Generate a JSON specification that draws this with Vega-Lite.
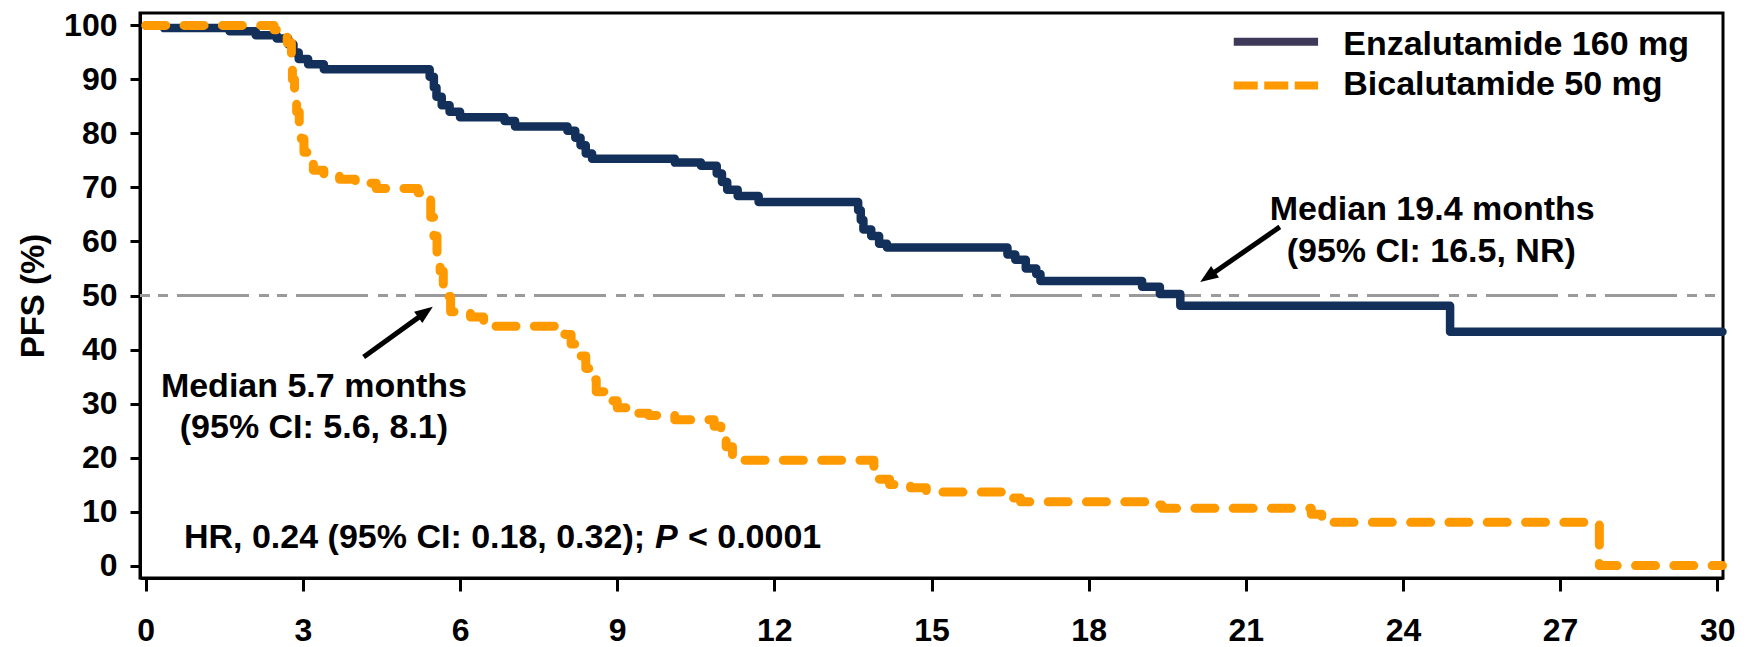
{
  "$schema": "https://vega.github.io/schema/vega-lite/v6.json",
  "width": 1583,
  "height": 565,
  "autosize": "none",
  "padding": {"left": 140, "top": 13, "right": 27, "bottom": 69},
  "background": "white",
  "config": {
    "view": {"stroke": "black", "strokeWidth": 3},
    "font": "Liberation Sans",
    "axis": {
      "grid": false,
      "domainColor": "black",
      "domainWidth": 3,
      "tickColor": "black",
      "tickWidth": 3,
      "labelFont": "Liberation Sans",
      "labelFontWeight": "bold",
      "labelFontSize": 32,
      "labelColor": "black",
      "titleFont": "Liberation Sans",
      "titleFontWeight": "bold",
      "titleFontSize": 33,
      "titleColor": "black"
    }
  },
  "datasets": {
    "km": [
      {"series": "Enzalutamide 160 mg", "t": 0, "v": 100},
      {"series": "Enzalutamide 160 mg", "t": 0.35, "v": 99.5},
      {"series": "Enzalutamide 160 mg", "t": 1.6, "v": 98.9},
      {"series": "Enzalutamide 160 mg", "t": 2.1, "v": 98.2},
      {"series": "Enzalutamide 160 mg", "t": 2.5, "v": 97.6},
      {"series": "Enzalutamide 160 mg", "t": 2.72, "v": 96.5},
      {"series": "Enzalutamide 160 mg", "t": 2.82, "v": 95},
      {"series": "Enzalutamide 160 mg", "t": 2.92, "v": 93.8},
      {"series": "Enzalutamide 160 mg", "t": 3.1, "v": 92.8},
      {"series": "Enzalutamide 160 mg", "t": 3.4, "v": 91.9},
      {"series": "Enzalutamide 160 mg", "t": 5.42, "v": 90.5},
      {"series": "Enzalutamide 160 mg", "t": 5.5, "v": 88.5},
      {"series": "Enzalutamide 160 mg", "t": 5.55, "v": 86.8},
      {"series": "Enzalutamide 160 mg", "t": 5.65, "v": 85.2},
      {"series": "Enzalutamide 160 mg", "t": 5.8, "v": 84},
      {"series": "Enzalutamide 160 mg", "t": 6.0, "v": 83.0},
      {"series": "Enzalutamide 160 mg", "t": 6.85, "v": 82.3},
      {"series": "Enzalutamide 160 mg", "t": 7.05, "v": 81.3},
      {"series": "Enzalutamide 160 mg", "t": 8.05, "v": 80.5},
      {"series": "Enzalutamide 160 mg", "t": 8.2, "v": 79.2},
      {"series": "Enzalutamide 160 mg", "t": 8.3, "v": 77.8},
      {"series": "Enzalutamide 160 mg", "t": 8.4, "v": 76.3},
      {"series": "Enzalutamide 160 mg", "t": 8.52, "v": 75.3},
      {"series": "Enzalutamide 160 mg", "t": 10.1, "v": 74.6},
      {"series": "Enzalutamide 160 mg", "t": 10.6, "v": 74.0},
      {"series": "Enzalutamide 160 mg", "t": 10.9, "v": 72.6},
      {"series": "Enzalutamide 160 mg", "t": 11.0, "v": 71},
      {"series": "Enzalutamide 160 mg", "t": 11.1, "v": 69.6},
      {"series": "Enzalutamide 160 mg", "t": 11.3, "v": 68.4},
      {"series": "Enzalutamide 160 mg", "t": 11.7, "v": 67.3},
      {"series": "Enzalutamide 160 mg", "t": 13.6, "v": 65.8},
      {"series": "Enzalutamide 160 mg", "t": 13.65, "v": 64},
      {"series": "Enzalutamide 160 mg", "t": 13.7, "v": 62.2},
      {"series": "Enzalutamide 160 mg", "t": 13.85, "v": 61},
      {"series": "Enzalutamide 160 mg", "t": 14.0, "v": 59.6},
      {"series": "Enzalutamide 160 mg", "t": 14.15, "v": 58.9},
      {"series": "Enzalutamide 160 mg", "t": 16.45, "v": 57.6},
      {"series": "Enzalutamide 160 mg", "t": 16.6, "v": 56.6},
      {"series": "Enzalutamide 160 mg", "t": 16.8, "v": 55},
      {"series": "Enzalutamide 160 mg", "t": 17.0, "v": 54},
      {"series": "Enzalutamide 160 mg", "t": 17.08, "v": 52.7},
      {"series": "Enzalutamide 160 mg", "t": 19.02, "v": 51.6},
      {"series": "Enzalutamide 160 mg", "t": 19.36, "v": 50.3},
      {"series": "Enzalutamide 160 mg", "t": 19.75, "v": 48.1},
      {"series": "Enzalutamide 160 mg", "t": 24.9, "v": 43.3},
      {"series": "Enzalutamide 160 mg", "t": 30.1, "v": 43.3},
      {"series": "Bicalutamide 50 mg", "t": 0, "v": 100},
      {"series": "Bicalutamide 50 mg", "t": 2.45, "v": 99.2},
      {"series": "Bicalutamide 50 mg", "t": 2.6, "v": 98},
      {"series": "Bicalutamide 50 mg", "t": 2.7, "v": 96.8},
      {"series": "Bicalutamide 50 mg", "t": 2.78, "v": 93},
      {"series": "Bicalutamide 50 mg", "t": 2.8, "v": 90},
      {"series": "Bicalutamide 50 mg", "t": 2.84, "v": 87},
      {"series": "Bicalutamide 50 mg", "t": 2.88, "v": 84},
      {"series": "Bicalutamide 50 mg", "t": 2.93, "v": 81},
      {"series": "Bicalutamide 50 mg", "t": 2.97, "v": 79},
      {"series": "Bicalutamide 50 mg", "t": 3.02, "v": 76.5},
      {"series": "Bicalutamide 50 mg", "t": 3.08, "v": 74.5},
      {"series": "Bicalutamide 50 mg", "t": 3.2, "v": 73.2},
      {"series": "Bicalutamide 50 mg", "t": 3.4, "v": 72.3},
      {"series": "Bicalutamide 50 mg", "t": 3.7, "v": 71.5},
      {"series": "Bicalutamide 50 mg", "t": 4.0, "v": 70.8},
      {"series": "Bicalutamide 50 mg", "t": 4.4, "v": 69.8},
      {"series": "Bicalutamide 50 mg", "t": 5.2, "v": 69},
      {"series": "Bicalutamide 50 mg", "t": 5.36, "v": 67.8},
      {"series": "Bicalutamide 50 mg", "t": 5.44, "v": 64.5},
      {"series": "Bicalutamide 50 mg", "t": 5.5, "v": 61},
      {"series": "Bicalutamide 50 mg", "t": 5.56, "v": 57.5},
      {"series": "Bicalutamide 50 mg", "t": 5.62, "v": 54.5},
      {"series": "Bicalutamide 50 mg", "t": 5.68, "v": 52},
      {"series": "Bicalutamide 50 mg", "t": 5.74, "v": 49.8},
      {"series": "Bicalutamide 50 mg", "t": 5.82, "v": 47},
      {"series": "Bicalutamide 50 mg", "t": 6.2, "v": 46},
      {"series": "Bicalutamide 50 mg", "t": 6.45, "v": 45},
      {"series": "Bicalutamide 50 mg", "t": 6.65, "v": 44.3},
      {"series": "Bicalutamide 50 mg", "t": 8.0, "v": 42.8},
      {"series": "Bicalutamide 50 mg", "t": 8.12, "v": 41},
      {"series": "Bicalutamide 50 mg", "t": 8.25, "v": 38.8},
      {"series": "Bicalutamide 50 mg", "t": 8.4, "v": 36.5},
      {"series": "Bicalutamide 50 mg", "t": 8.5, "v": 34.4},
      {"series": "Bicalutamide 50 mg", "t": 8.6, "v": 32.2},
      {"series": "Bicalutamide 50 mg", "t": 8.8, "v": 30.5},
      {"series": "Bicalutamide 50 mg", "t": 9.0, "v": 29.2},
      {"series": "Bicalutamide 50 mg", "t": 9.2, "v": 28.2},
      {"series": "Bicalutamide 50 mg", "t": 9.6, "v": 27.8},
      {"series": "Bicalutamide 50 mg", "t": 10.1, "v": 27},
      {"series": "Bicalutamide 50 mg", "t": 10.85, "v": 25.8},
      {"series": "Bicalutamide 50 mg", "t": 10.98, "v": 24},
      {"series": "Bicalutamide 50 mg", "t": 11.08, "v": 22},
      {"series": "Bicalutamide 50 mg", "t": 11.2, "v": 20.3},
      {"series": "Bicalutamide 50 mg", "t": 11.35, "v": 19.5},
      {"series": "Bicalutamide 50 mg", "t": 13.9, "v": 17.5},
      {"series": "Bicalutamide 50 mg", "t": 13.97, "v": 16},
      {"series": "Bicalutamide 50 mg", "t": 14.2, "v": 15},
      {"series": "Bicalutamide 50 mg", "t": 14.6, "v": 14.4},
      {"series": "Bicalutamide 50 mg", "t": 14.9, "v": 13.6},
      {"series": "Bicalutamide 50 mg", "t": 16.5, "v": 12.5},
      {"series": "Bicalutamide 50 mg", "t": 16.7, "v": 11.8},
      {"series": "Bicalutamide 50 mg", "t": 19.15, "v": 11.2},
      {"series": "Bicalutamide 50 mg", "t": 19.4, "v": 10.6},
      {"series": "Bicalutamide 50 mg", "t": 22.25, "v": 9.5},
      {"series": "Bicalutamide 50 mg", "t": 22.45, "v": 8},
      {"series": "Bicalutamide 50 mg", "t": 27.75, "v": 0},
      {"series": "Bicalutamide 50 mg", "t": 30.1, "v": 0}
    ]
  },
  "encoding": {
    "x": {
      "field": "t",
      "type": "quantitative",
      "scale": {"domain": [-0.11, 30.11], "nice": false, "zero": false},
      "axis": {
        "title": null,
        "values": [0, 3, 6, 9, 12, 15, 18, 21, 24, 27, 30],
        "format": "d",
        "tickSize": 13,
        "labelPadding": 24,
        "labelFlush": false,
        "labelDx": 5
      }
    },
    "y": {
      "field": "v",
      "type": "quantitative",
      "scale": {"domain": [-2.3, 102.3], "nice": false, "zero": false},
      "axis": {
        "title": "PFS (%)",
        "values": [0, 10, 20, 30, 40, 50, 60, 70, 80, 90, 100],
        "tickSize": 10,
        "labelPadding": 13,
        "titlePadding": 13
      }
    }
  },
  "layer": [
    {
      "data": {"values": [{"t": -0.11, "t2": 30.11, "v": 50}]},
      "mark": {"type": "rule", "stroke": "#9a9a9a", "strokeWidth": 3, "strokeDash": [72, 10, 10, 8, 10, 9], "strokeDashOffset": 82},
      "encoding": {"x2": {"field": "t2"}}
    },
    {
      "data": {"name": "km"},
      "transform": [{"filter": "datum.series === 'Enzalutamide 160 mg'"}],
      "mark": {"type": "line", "interpolate": "step-after", "strokeWidth": 8.5, "strokeCap": "round", "strokeJoin": "round"},
      "encoding": {
        "color": {"field": "series", "type": "nominal", "scale": {"domain": ["Enzalutamide 160 mg", "Bicalutamide 50 mg"], "range": ["#13305b", "#ff9900"]}, "legend": null}
      }
    },
    {
      "data": {"name": "km"},
      "transform": [{"filter": "datum.series === 'Bicalutamide 50 mg'"}],
      "mark": {"type": "line", "interpolate": "step-after", "strokeWidth": 9, "strokeCap": "round", "strokeJoin": "round", "strokeDash": [20, 18.3]},
      "encoding": {
        "color": {"field": "series", "type": "nominal", "scale": {"domain": ["Enzalutamide 160 mg", "Bicalutamide 50 mg"], "range": ["#13305b", "#ff9900"]}, "legend": null}
      }
    },
    {
      "data": {"values": [
        {"t": 4.16, "v": 38.6, "t2": 5.30, "v2": 46.6},
        {"t": 21.65, "v": 62.7, "t2": 20.32, "v2": 53.75}
      ]},
      "mark": {"type": "rule", "stroke": "black", "strokeWidth": 5},
      "encoding": {"x2": {"field": "t2"}, "y2": {"field": "v2"}}
    },
    {
      "data": {"values": [{"t": 5.48, "v": 47.9}]},
      "mark": {"type": "point", "shape": "M0,0L0.78,2L-0.78,2Z", "filled": true, "color": "black", "opacity": 1, "size": 324, "angle": 54.2}
    },
    {
      "data": {"values": [{"t": 20.13, "v": 52.5}]},
      "mark": {"type": "point", "shape": "M0,0L0.78,2L-0.78,2Z", "filled": true, "color": "black", "opacity": 1, "size": 324, "angle": 235.5}
    },
    {
      "data": {"values": [{"t": 20.77, "t2": 22.38, "v": 97.0}]},
      "mark": {"type": "rule", "stroke": "#3e3859", "strokeWidth": 8, "strokeCap": "butt"},
      "encoding": {"x2": {"field": "t2"}}
    },
    {
      "data": {"values": [{"t": 20.77, "t2": 22.38, "v": 88.9}]},
      "mark": {"type": "rule", "stroke": "#ff9900", "strokeWidth": 8, "strokeCap": "butt", "strokeDash": [24, 6.5]},
      "encoding": {"x2": {"field": "t2"}}
    },
    {
      "data": {"values": [
        {"t": 3.21, "v": 31.2, "label": "Median 5.7 months"},
        {"t": 3.21, "v": 23.6, "label": "(95% CI: 5.6, 8.1)"},
        {"t": 24.56, "v": 64.0, "label": "Median 19.4 months"},
        {"t": 24.54, "v": 56.2, "label": "(95% CI: 16.5, NR)"},
        {"t": 5.13, "v": 3.24, "label": "HR, 0.24 (95% CI: 0.18, 0.32);"}
      ]},
      "mark": {"type": "text", "align": "center", "baseline": "alphabetic", "font": "Liberation Sans", "fontWeight": "bold", "fontSize": 34, "color": "black"},
      "encoding": {"text": {"field": "label"}}
    },
    {
      "data": {"values": [
        {"t": 10.35, "v": 3.24, "label": "< 0.0001"},
        {"t": 22.86, "v": 94.5, "label": "Enzalutamide 160 mg"},
        {"t": 22.86, "v": 87.1, "label": "Bicalutamide 50 mg"}
      ]},
      "mark": {"type": "text", "align": "left", "baseline": "alphabetic", "font": "Liberation Sans", "fontWeight": "bold", "fontSize": 34, "color": "black"},
      "encoding": {"text": {"field": "label"}}
    },
    {
      "data": {"values": [{"t": 9.72, "v": 3.24, "label": "P"}]},
      "mark": {"type": "text", "align": "left", "baseline": "alphabetic", "font": "Liberation Sans", "fontWeight": "bold", "fontStyle": "italic", "fontSize": 34, "color": "black"},
      "encoding": {"text": {"field": "label"}}
    }
  ]
}
